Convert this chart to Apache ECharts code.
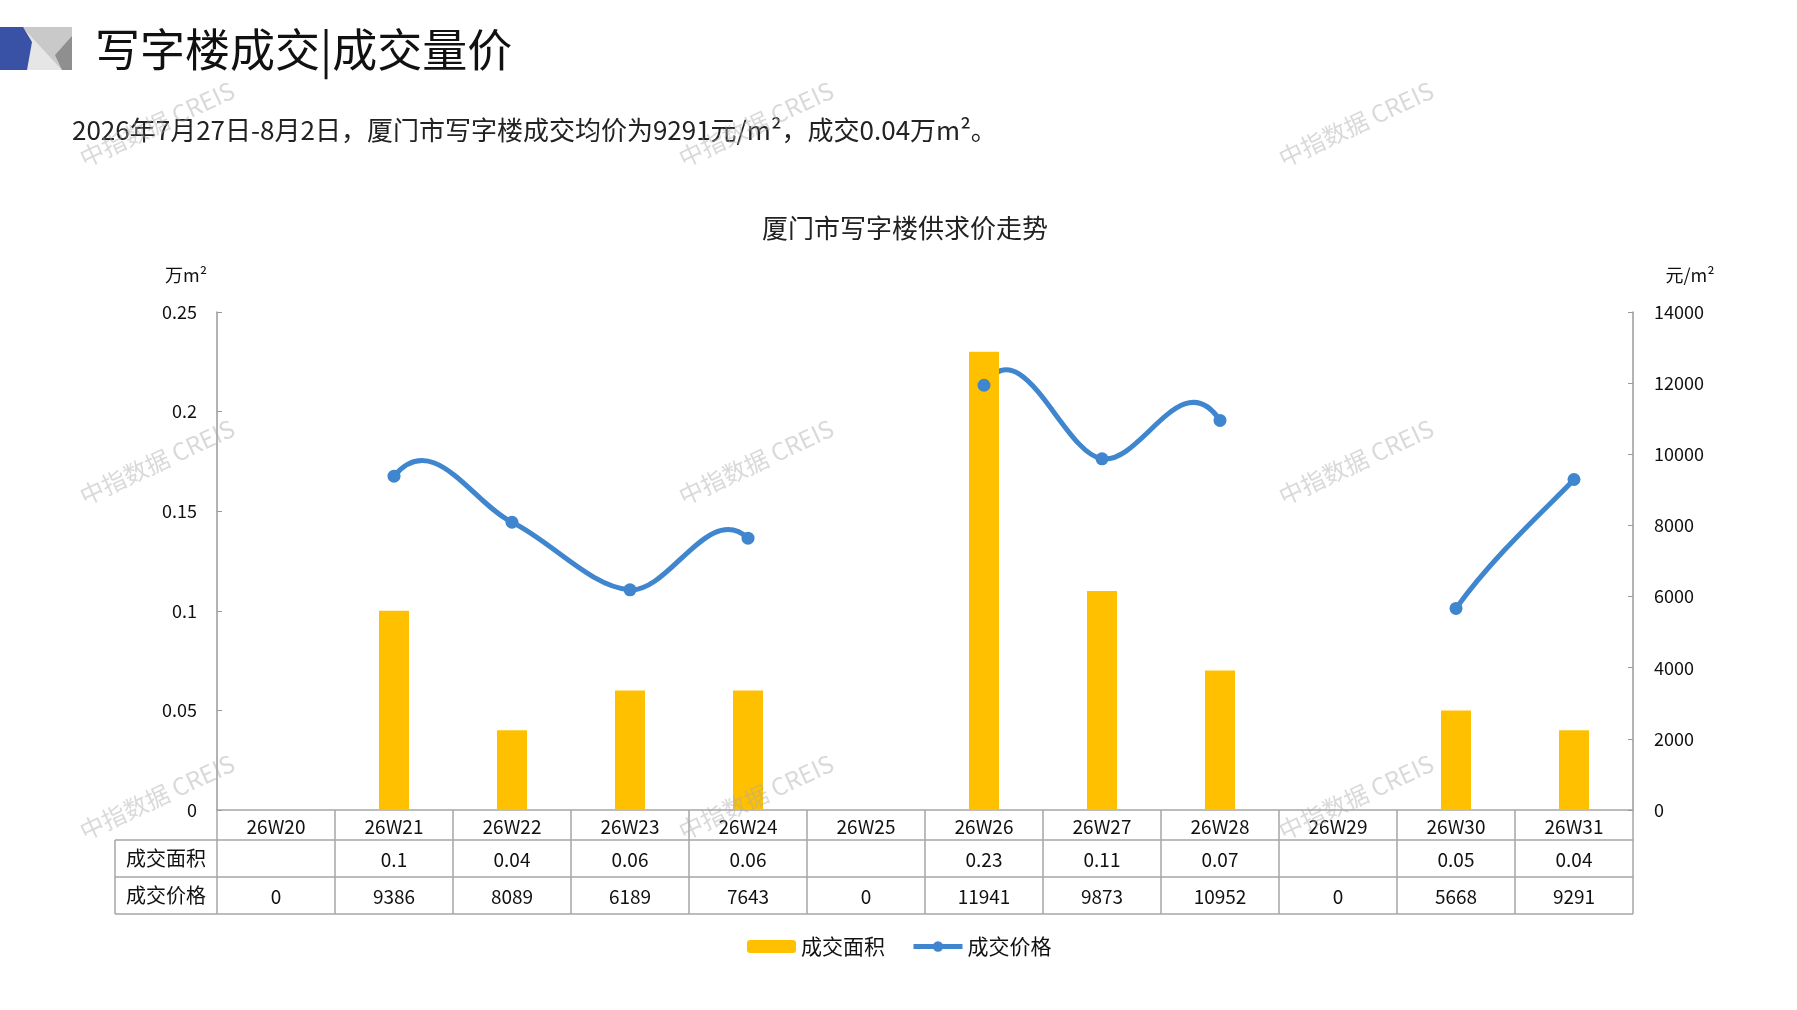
<!DOCTYPE html>
<html>
<head>
<meta charset="utf-8">
<title>厦门市写字楼供求价走势</title>
<script src="https://cdn.jsdelivr.net/npm/echarts@6/dist/echarts.min.js"></script>
<style>
  html, body { margin: 0; padding: 0; background: #fff; }
  #chart { width: 1797px; height: 1010px; }
</style>
</head>
<body>
<div id="chart"></div>
<script>
// 数据
var weeks = ['26W20', '26W21', '26W22', '26W23', '26W24', '26W25', '26W26', '26W27', '26W28', '26W29', '26W30', '26W31'];
var area = [null, 0.1, 0.04, 0.06, 0.06, null, 0.23, 0.11, 0.07, null, 0.05, 0.04];   // 成交面积 万m²
var price = [0, 9386, 8089, 6189, 7643, 0, 11941, 9873, 10952, 0, 5668, 9291];        // 成交价格 元/m²
var areaTicks = [0, 0.05, 0.1, 0.15, 0.2, 0.25];
var priceTicks = [0, 2000, 4000, 6000, 8000, 10000, 12000, 14000];

// 布局
var W = 1797, H = 1010;
var gl = 217, gr = 1633, gt = 312, gb = 810;
var tableLeft = 115, row1 = 840, row2 = 877, tableBottom = 914;
var lineColor = '#A6A6A6';
var blue = '#3F86CE';
var font = '"Noto Sans CJK SC", "Noto Sans", sans-serif';

var chart = echarts.init(document.getElementById('chart'));

// 价格为0的周在图中不连线
var priceLine = price.map(function (v) { return v === 0 ? '-' : v; });

function tableAxis(offset, tick, margin, texts) {
	return {
		type: 'category',
		position: 'bottom',
		offset: offset,
		data: weeks,
		boundaryGap: true,
		axisLine: { show: true, onZero: false, lineStyle: { color: lineColor, width: 1.5 } },
		axisTick: { show: tick > 0, interval: 0, length: tick, lineStyle: { color: lineColor, width: 1.5 } },
		axisLabel: {
			interval: 0, margin: margin, color: '#111', fontSize: 19, fontFamily: font,
			formatter: function (v, i) { return texts[i]; }
		},
		splitLine: { show: false }
	};
}

function hline(x1, x2, y) {
	return { type: 'line', shape: { x1: x1, y1: y, x2: x2, y2: y }, style: { stroke: lineColor, lineWidth: 1.5 } };
}
function vline(x, y1, y2) {
	return { type: 'line', shape: { x1: x, y1: y1, x2: x, y2: y2 }, style: { stroke: lineColor, lineWidth: 1.5 } };
}

var marks = [[157, 124], [756, 124], [1356, 124], [157, 462], [756, 462], [1356, 462], [157, 797], [756, 797], [1356, 797]];
var watermark = marks.map(function (p) {
	return {
		type: 'text', x: p[0], y: p[1], rotation: 25 * Math.PI / 180, z: 100,
		style: { text: '中指数据 CREIS', fill: 'rgba(170,170,170,0.45)', font: '24px ' + font, align: 'center', verticalAlign: 'middle' }
	};
});

// Excel式平滑曲线：相邻点(含0值周)决定切线
function curveItem(params, api) {
	var i = params.dataIndex;
	var n = price.length;
	if (i >= n - 1 || price[i] === 0 || price[i + 1] === 0) return;
	function pt(k) {
		k = Math.max(0, Math.min(n - 1, k));
		return api.coord([k, price[k]]);
	}
	var p0 = pt(i - 1), p1 = pt(i), p2 = pt(i + 1), p3 = pt(i + 2);
	return {
		type: 'bezierCurve',
		shape: {
			x1: p1[0], y1: p1[1],
			cpx1: p1[0] + (p2[0] - p0[0]) / 6, cpy1: p1[1] + (p2[1] - p0[1]) / 6,
			cpx2: p2[0] - (p3[0] - p1[0]) / 6, cpy2: p2[1] - (p3[1] - p1[1]) / 6,
			x2: p2[0], y2: p2[1]
		},
		style: { stroke: blue, lineWidth: 5, fill: null }
	};
}

var option = {
	backgroundColor: '#fff',
	title: {
		text: '厦门市写字楼供求价走势',
		left: 900, top: 210, textAlign: 'center',
		textStyle: { fontSize: 26, fontWeight: 'normal', color: '#222', fontFamily: font }
	},
	legend: {
		left: 742, top: 931,
		itemWidth: 49, itemHeight: 13, itemGap: 26,
		textStyle: { fontSize: 21, color: '#111', fontFamily: font },
		data: ['成交面积', { name: '成交价格', lineStyle: { color: blue, width: 5, opacity: 1 } }]
	},
	grid: { left: gl, right: W - gr, top: gt, bottom: H - gb, containLabel: false },
	xAxis: [
		tableAxis(0, tableBottom - gb, 7, weeks),
		tableAxis(row1 - gb, 0, 10, area.map(function (v) { return v == null ? '' : String(v); })),
		tableAxis(row2 - gb, 0, 10, price.map(String))
	],
	yAxis: [
		{
			type: 'value', min: 0, max: 0.25, interval: 0.05,
			axisLine: { show: true, lineStyle: { color: '#9A9A9A', width: 1.5 } },
			axisTick: { show: true, inside: true, length: 5, lineStyle: { color: '#9A9A9A' } },
			axisLabel: { margin: 20, color: '#111', fontSize: 18, fontFamily: font,
				formatter: function (v) { return String(areaTicks[Math.round(v / 0.05)]); } },
			splitLine: { show: false }
		},
		{
			type: 'value', min: 0, max: 14000, interval: 2000,
			axisLine: { show: true, lineStyle: { color: '#9A9A9A', width: 1.5 } },
			axisTick: { show: true, inside: true, length: 5, lineStyle: { color: '#9A9A9A' } },
			axisLabel: { margin: 21, color: '#111', fontSize: 18, fontFamily: font,
				formatter: function (v) { return String(priceTicks[Math.round(v / 2000)]); } },
			splitLine: { show: false }
		}
	],
	series: [
		{
			name: '成交面积',
			type: 'bar',
			xAxisIndex: 0, yAxisIndex: 0,
			barWidth: 30,
			itemStyle: { color: '#FFC000' },
			data: area
		},
		{
			name: '价格曲线',
			type: 'custom',
			xAxisIndex: 0, yAxisIndex: 1,
			z: 2,
			renderItem: curveItem,
			data: price.map(function (v, i) { return [i, v]; })
		},
		{
			name: '成交价格',
			type: 'line',
			xAxisIndex: 0, yAxisIndex: 1,
			z: 3,
			connectNulls: false,
			symbol: 'circle', symbolSize: 13,
			lineStyle: { color: blue, width: 5, opacity: 0 },
			itemStyle: { color: blue },
			data: priceLine
		}
	],
	graphic: [
		// 页眉色块
		{ type: 'rect', shape: { x: 23, y: 27, width: 49, height: 43 }, style: { fill: '#C9C9C9' } },
		{ type: 'polygon', shape: { points: [[25, 30], [62, 70], [27, 70]] }, style: { fill: '#E6E6E6' } },
		{ type: 'polygon', shape: { points: [[72, 36], [72, 70], [62, 70], [55, 55]] }, style: { fill: '#8F8F8F' } },
		{ type: 'polygon', shape: { points: [[0, 27], [23, 27], [32, 42], [27, 70], [0, 70]] }, style: { fill: '#3A52A6' } },
		{ type: 'text', x: 95, y: 50, style: { text: '写字楼成交|成交量价', font: '45px ' + font, fill: '#111', verticalAlign: 'middle' } },
		{ type: 'text', x: 72, y: 130, style: { text: '2026年7月27日-8月2日，厦门市写字楼成交均价为9291元/m²，成交0.04万m²。', font: '26px ' + font, fill: '#222', verticalAlign: 'middle' } },
		// 单位
		{ type: 'text', x: 186, y: 275, style: { text: '万m²', font: '18px ' + font, fill: '#111', align: 'center', verticalAlign: 'middle' } },
		{ type: 'text', x: 1690, y: 275, style: { text: '元/m²', font: '18px ' + font, fill: '#111', align: 'center', verticalAlign: 'middle' } },
		// 数据表左列
		hline(tableLeft, gl, row1),
		hline(tableLeft, gl, row2),
		hline(tableLeft, gr, tableBottom),
		vline(tableLeft, row1, tableBottom),
		{ type: 'text', x: (tableLeft + gl) / 2, y: (row1 + row2) / 2, style: { text: '成交面积', font: '20px ' + font, fill: '#111', align: 'center', verticalAlign: 'middle' } },
		{ type: 'text', x: (tableLeft + gl) / 2, y: (row2 + tableBottom) / 2, style: { text: '成交价格', font: '20px ' + font, fill: '#111', align: 'center', verticalAlign: 'middle' } }
	].concat(watermark)
};

chart.setOption(option);
</script>
</body>
</html>
